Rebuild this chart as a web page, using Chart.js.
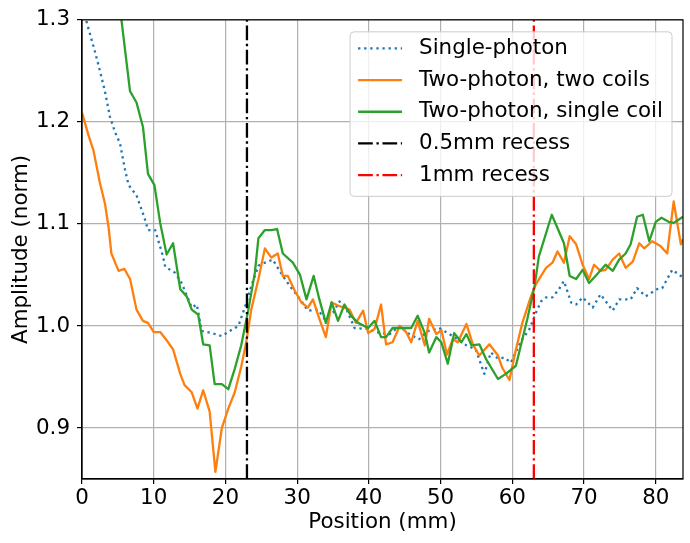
<!DOCTYPE html>
<html>
<head>
<meta charset="utf-8">
<script src="https://cdn.jsdelivr.net/npm/chart.js@4.4.0/dist/chart.umd.min.js"></script>
<style>
  html, body { margin: 0; padding: 0; background: #fff; }
  #wrap { width: 690px; height: 543px; }
</style>
</head>
<body>
<div id="wrap"><canvas id="chart" width="690" height="543"></canvas></div>
<script>
// values
const singlePos = [0, 0.6, 1.8, 2.5, 3.2, 3.9, 4.6, 5.3, 6.0, 6.5, 7.6, 8.8, 9.2, 10.2, 11.3, 11.6, 13.0, 13.9, 15.3, 16.0,
  16.7, 18.1, 19.5, 20.6, 21.8, 22.7, 23.6, 24.6, 25.5, 26.6, 28.0, 29.0, 30.1, 31.5, 32.9, 33.8, 35.0, 35.9, 36.9, 38.0,
  39.9, 41.5, 42.9, 44.3, 45.4, 47.0, 48.2, 49.8, 51.7, 53.6, 54.9, 56.1, 57.0, 58.0, 58.9, 59.8, 61.2, 62.4, 63.3, 64.0,
  64.7, 65.6, 66.5, 67.2, 68.2, 68.9, 69.8, 71.2, 72.3, 74.0, 74.9, 76.5, 77.4, 78.6, 80.2, 80.9, 82.3, 83.5, 83.8];
const singleAmp = [1.31, 1.299, 1.269, 1.25, 1.23, 1.205, 1.19, 1.179, 1.153, 1.138, 1.128, 1.104, 1.094, 1.094, 1.068, 1.058, 1.052, 1.042, 1.018, 1.021,
  0.995, 0.993, 0.99, 0.995, 1.0, 1.018, 1.039, 1.059, 1.062, 1.065, 1.049, 1.039, 1.029, 1.015, 1.016, 1.007, 1.013, 1.024, 1.016, 0.998,
  0.997, 0.993, 0.992, 1.0, 0.993, 0.987, 0.995, 0.998, 0.99, 0.981, 0.977, 0.953, 0.974, 0.968, 0.969, 0.964, 0.985, 0.997, 1.013, 1.024,
  1.028, 1.028, 1.036, 1.044, 1.023, 1.021, 1.028, 1.018, 1.031, 1.015, 1.026, 1.026, 1.037, 1.029, 1.036, 1.037, 1.055, 1.049, 1.047];

const twoCoilPos = [0, 0.9, 1.6, 2.5, 3.2, 3.7, 4.1, 5.1, 5.9, 6.7, 7.6, 8.5, 9.2, 10.0, 10.9, 11.8, 12.7, 13.7, 14.3, 15.3,
  16.1, 16.9, 17.8, 18.6, 19.5, 20.4, 21.3, 22.2, 22.9, 23.6, 24.6, 25.5, 26.4, 27.3, 28.0, 28.7, 29.7, 30.6, 31.5, 32.2,
  33.1, 34.0, 34.8, 35.7, 37.3, 38.2, 39.2, 39.9, 40.8, 41.7, 42.4, 43.3, 44.3, 45.2, 45.9, 46.8, 47.8, 48.4, 49.4, 50.1,
  50.9, 51.7, 52.4, 53.6, 54.5, 55.4, 56.8, 58.0, 58.6, 59.6, 60.5, 61.4, 62.6, 63.3, 64.7, 65.6, 66.3, 67.2, 68.0, 68.9,
  69.8, 70.7, 71.4, 72.3, 73.0, 74.0, 74.9, 75.8, 76.8, 77.7, 78.4, 79.5, 80.7, 81.6, 82.5, 83.5, 83.8];
const twoCoilAmp = [1.209, 1.187, 1.172, 1.14, 1.12, 1.097, 1.071, 1.054, 1.056, 1.046, 1.016, 1.005, 1.003, 0.994, 0.994, 0.986, 0.977, 0.953, 0.942, 0.935,
  0.919, 0.937, 0.916, 0.857, 0.9, 0.919, 0.935, 0.96, 0.984, 1.016, 1.046, 1.076, 1.067, 1.071, 1.049, 1.049, 1.034, 1.023, 1.018, 1.026,
  1.007, 0.989, 1.023, 1.02, 1.016, 1.003, 1.015, 0.993, 0.997, 1.021, 0.982, 0.984, 1.0, 0.994, 0.984, 1.005, 0.981, 1.007, 0.992, 0.996,
  0.972, 0.987, 0.984, 1.002, 0.982, 0.971, 0.982, 0.971, 0.959, 0.947, 0.977, 1.003, 1.029, 1.041, 1.057, 1.062, 1.073, 1.062, 1.088, 1.08,
  1.06, 1.046, 1.06, 1.054, 1.055, 1.065, 1.071, 1.057, 1.063, 1.081, 1.076, 1.083, 1.078, 1.071, 1.122, 1.08, 1.085];

const oneCoilPos = [0, 2.0, 4.0, 5.5, 6.7, 7.6, 8.5, 9.2, 10.1, 10.9, 11.8, 12.7, 13.7, 14.6, 15.3, 16.2, 16.9, 17.8, 18.5, 19.5,
  20.4, 21.3, 22.2, 23.2, 24.1, 24.6, 25.5, 26.4, 27.2, 28.0, 29.4, 30.4, 31.3, 32.3, 33.1, 34.0, 34.8, 35.7, 36.6, 37.5,
  38.5, 39.9, 40.8, 41.7, 42.4, 43.3, 44.7, 45.9, 46.8, 47.8, 48.4, 49.4, 50.1, 51.0, 51.9, 52.9, 53.6, 54.3, 55.4, 56.3,
  58.0, 59.1, 60.5, 62.1, 63.1, 63.7, 65.5, 66.3, 67.2, 68.0, 68.9, 69.8, 70.7, 71.6, 73.0, 74.0, 74.9, 75.8, 76.5, 77.4,
  78.2, 79.1, 80.0, 80.8, 81.8, 82.5, 83.8];
const oneCoilAmp = [1.55, 1.45, 1.37, 1.3, 1.23, 1.219, 1.195, 1.149, 1.138, 1.101, 1.07, 1.081, 1.036, 1.029, 1.016, 1.011, 0.982, 0.981, 0.943, 0.943,
  0.938, 0.958, 0.981, 1.016, 1.052, 1.086, 1.094, 1.094, 1.095, 1.071, 1.062, 1.05, 1.026, 1.049, 1.026, 1.003, 1.023, 1.005, 1.021, 1.01,
  1.003, 0.998, 1.005, 0.989, 0.989, 0.998, 0.998, 0.998, 1.01, 0.993, 0.974, 0.989, 0.984, 0.963, 0.993, 0.984, 0.992, 0.981, 0.982, 0.968,
  0.948, 0.953, 0.961, 1.007, 1.039, 1.068, 1.109, 1.096, 1.081, 1.049, 1.046, 1.055, 1.042, 1.049, 1.06, 1.054, 1.065, 1.071, 1.08, 1.107,
  1.109, 1.083, 1.102, 1.106, 1.102, 1.101, 1.107];

const recessHalfMm = 23;
const recessOneMm = 63;

const xTicks = [0, 10, 20, 30, 40, 50, 60, 70, 80];
const yTicks = [0.9, 1.0, 1.1, 1.2, 1.3];
const xRange = [0, 83.8];
const yRange = [0.85, 1.3];

const FONT = "'DejaVu Sans', sans-serif";
const FSIZE = 21.4;
const LW = 2.3;

function pairs(xs, ys) {
  return xs.map((x, i) => ({ x: x, y: ys[i] }));
}

function vline(x) {
  return [{ x: x, y: yRange[0] }, { x: x, y: yRange[1] }];
}

// matplotlib style legend drawn inside the axes, top right
const boxLegend = {
  id: 'boxLegend',
  afterDraw(chart) {
    const ctx = chart.ctx;
    const area = chart.chartArea;
    const sets = chart.data.datasets;
    ctx.save();
    ctx.font = FSIZE + 'px ' + FONT;
    let maxW = 0;
    sets.forEach(ds => { maxW = Math.max(maxW, ctx.measureText(ds.label).width); });
    const rowH = 31.7;
    const w = 69 + maxW + 9;
    const h = rowH * sets.length + 6;
    const right = area.right - 11;
    const left = right - w;
    const top = area.top + 12;

    const r = 4;
    ctx.beginPath();
    ctx.moveTo(left + r, top);
    ctx.lineTo(left + w - r, top);
    ctx.arcTo(left + w, top, left + w, top + r, r);
    ctx.lineTo(left + w, top + h - r);
    ctx.arcTo(left + w, top + h, left + w - r, top + h, r);
    ctx.lineTo(left + r, top + h);
    ctx.arcTo(left, top + h, left, top + h - r, r);
    ctx.lineTo(left, top + r);
    ctx.arcTo(left, top, left + r, top, r);
    ctx.closePath();
    ctx.fillStyle = 'rgba(255,255,255,0.8)';
    ctx.fill();
    ctx.strokeStyle = '#cccccc';
    ctx.lineWidth = 1;
    ctx.stroke();

    sets.forEach((ds, i) => {
      const cy = top + 16.5 + i * rowH;
      ctx.beginPath();
      ctx.setLineDash(ds.borderDash || []);
      ctx.lineDashOffset = 0;
      ctx.strokeStyle = ds.borderColor;
      ctx.lineWidth = ds.borderWidth;
      ctx.lineCap = 'butt';
      ctx.moveTo(left + 8, cy);
      ctx.lineTo(left + 52, cy);
      ctx.stroke();
      ctx.setLineDash([]);
      ctx.fillStyle = '#000';
      ctx.textBaseline = 'middle';
      ctx.textAlign = 'left';
      ctx.fillText(ds.label, left + 69, cy);
    });
    ctx.restore();
  }
};

// full axes frame like matplotlib spines
const frame = {
  id: 'frame',
  afterDatasetsDraw(chart) {
    const a = chart.chartArea;
    const ctx = chart.ctx;
    ctx.save();
    ctx.strokeStyle = '#000';
    ctx.lineWidth = 1.2;
    ctx.strokeRect(a.left, a.top, a.right - a.left, a.bottom - a.top);
    ctx.restore();
  }
};

const dotted = [LW, LW * 1.65];
const dashDot = [LW * 6.4, LW * 1.6, LW, LW * 1.6];

new Chart(document.getElementById('chart'), {
  type: 'line',
  data: {
    datasets: [
      {
        label: 'Single-photon',
        data: pairs(singlePos, singleAmp),
        borderColor: '#1f77b4',
        borderWidth: LW,
        borderDash: dotted,
        order: 5
      },
      {
        label: 'Two-photon, two coils',
        data: pairs(twoCoilPos, twoCoilAmp),
        borderColor: '#ff7f0e',
        borderWidth: LW,
        order: 4
      },
      {
        label: 'Two-photon, single coil',
        data: pairs(oneCoilPos, oneCoilAmp),
        borderColor: '#2ca02c',
        borderWidth: LW,
        order: 3
      },
      {
        label: '0.5mm recess',
        data: vline(recessHalfMm),
        borderColor: '#000000',
        borderWidth: LW,
        borderDash: dashDot,
        order: 2
      },
      {
        label: '1mm recess',
        data: vline(recessOneMm),
        borderColor: '#ff0000',
        borderWidth: LW,
        borderDash: dashDot,
        order: 1
      }
    ]
  },
  options: {
    responsive: false,
    animation: false,
    layout: { padding: { left: 0, right: 7, top: 15, bottom: 0 } },
    elements: {
      point: { radius: 0, hoverRadius: 0 },
      line: { tension: 0, fill: false, borderCapStyle: 'butt', borderJoinStyle: 'round' }
    },
    plugins: {
      legend: { display: false },
      tooltip: { enabled: false }
    },
    scales: {
      x: {
        type: 'linear',
        min: xRange[0],
        max: xRange[1],
        afterBuildTicks: s => { s.ticks = xTicks.map(v => ({ value: v })); },
        afterFit: s => { s.height = 64; },
        grid: { color: '#b0b0b0', lineWidth: 1.2, tickColor: '#000', tickLength: 5 },
        border: { color: '#000', width: 1.2 },
        ticks: { color: '#000', font: { family: FONT, size: FSIZE }, padding: 2, maxRotation: 0,
          callback: v => String(v) },
        title: { display: true, text: 'Position (mm)', color: '#000',
          font: { family: FONT, size: FSIZE }, padding: { top: 0, bottom: 8 } }
      },
      y: {
        type: 'linear',
        min: yRange[0],
        max: yRange[1],
        afterBuildTicks: s => { s.ticks = yTicks.map(v => ({ value: v })); },
        afterFit: s => { s.width = 82; },
        grid: { color: '#b0b0b0', lineWidth: 1.2, tickColor: '#000', tickLength: 5 },
        border: { color: '#000', width: 1.2 },
        ticks: { color: '#000', font: { family: FONT, size: FSIZE }, padding: 7,
          callback: v => v.toFixed(1) },
        title: { display: true, text: 'Amplitude (norm)', color: '#000',
          font: { family: FONT, size: FSIZE }, padding: { top: 9, bottom: 0 } }
      }
    }
  },
  plugins: [frame, boxLegend]
});
</script>
</body>
</html>
